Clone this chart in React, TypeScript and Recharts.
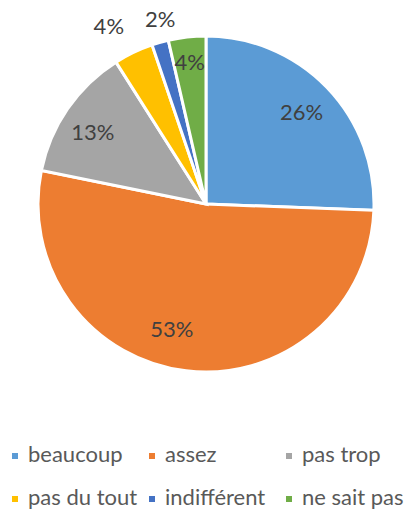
import { PieChart, Pie, Cell, Legend } from "recharts";

// réponses (en %)
const categories = ["beaucoup", "assez", "pas trop", "pas du tout", "indifférent", "ne sait pas"];
const shares = [25.6, 52.6, 12.8, 3.8, 1.6, 3.6];
const colors = ["#5B9BD5", "#ED7D31", "#A5A5A5", "#FFC000", "#4472C4", "#70AD47"];

// placement des étiquettes (rayon relatif, décalage d'angle en degrés, sens horaire)
const labelPlacement = [
  { r: 0.79, shift: 0 },
  { r: 0.77, shift: 8.5 },
  { r: 0.8, shift: -2 },
  { r: 1.21, shift: -3 },
  { r: 1.14, shift: 2 },
  { r: 0.855, shift: 0 },
];

const data = categories.map((name, i) => ({ name, value: shares[i] }));

const FONT = "Lato, 'Open Sans', sans-serif";
const RADIAN = Math.PI / 180;

const renderLabel = (props: any) => {
  const { cx, cy, midAngle, outerRadius, index, value } = props;
  const p = labelPlacement[index];
  const a = (midAngle - p.shift) * RADIAN;
  const r = outerRadius * p.r;
  const x = cx + r * Math.cos(a);
  const y = cy - r * Math.sin(a);
  return (
    <text
      x={x}
      y={y}
      fill="#404040"
      fontSize={22}
      fontFamily={FONT}
      textAnchor="middle"
      dominantBaseline="central"
    >
      {Math.round(value)}%
    </text>
  );
};

const renderLegend = () => (
  <div
    style={{
      display: "grid",
      gridTemplateColumns: "137px 137px 134px",
      rowGap: 17,
      fontFamily: FONT,
      fontSize: 22,
      lineHeight: "26px",
      color: "#595959",
      paddingLeft: 12,
    }}
  >
    {categories.map((name, i) => (
      <div key={name} style={{ display: "flex", alignItems: "center", height: 26, whiteSpace: "nowrap" }}>
        <span style={{ width: 6, height: 6, background: colors[i], marginRight: 10, marginTop: 4 }} />
        <span>{name}</span>
      </div>
    ))}
  </div>
);

export default function App() {
  return (
    <div style={{ position: "absolute", left: 0, top: 0, background: "#fff" }}>
      <PieChart width={408} height={514} margin={{ top: 0, right: 0, bottom: 0, left: 0 }}>
        <Pie
          data={data}
          dataKey="value"
          nameKey="name"
          cx={206}
          cy={204}
          outerRadius={168}
          startAngle={90}
          endAngle={-270}
          stroke="#fff"
          strokeWidth={3}
          label={renderLabel}
          labelLine={false}
          isAnimationActive={false}
        >
          {data.map((d, i) => (
            <Cell key={d.name} fill={colors[i]} />
          ))}
        </Pie>
        <Legend
          content={renderLegend}
          wrapperStyle={{ position: "absolute", left: 0, top: 441, width: 408 }}
        />
      </PieChart>
    </div>
  );
}
